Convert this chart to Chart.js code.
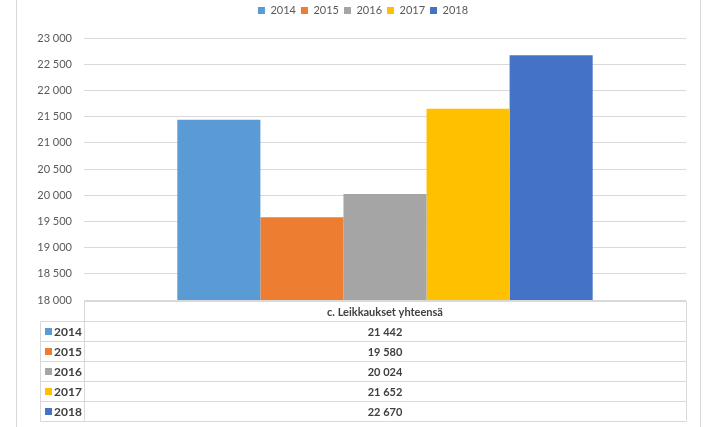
<!DOCTYPE html>
<html>
<head>
<meta charset="utf-8">
<script src="https://cdn.jsdelivr.net/npm/chart.js@4.4.1/dist/chart.umd.min.js"></script>
<style>
  html, body { margin: 0; padding: 0; background: #fff; }
  #wrap { width: 703px; height: 427px; position: relative; }
</style>
</head>
<body>
<div id="wrap"><canvas id="chart"></canvas></div>
<script>
const categories = ['c. Leikkaukset yhteensä'];
const years = ['2014', '2015', '2016', '2017', '2018'];
const values = [21442, 19580, 20024, 21652, 22670];
const colors = ['#5B9BD5', '#ED7D31', '#A5A5A5', '#FFC000', '#4472C4'];
const yMin = 18000, yMax = 23000, yStep = 500;

const fmt = v => String(v).replace(/\B(?=(\d{3})+(?!\d))/g, ' ');
const FONT = 'Lato, "Open Sans", sans-serif';
const lineCol = '#d9d9d9';

// extra room under the legend, and nudge it right over the plot
const legendGap = {
  id: 'legendGap',
  beforeInit(c) {
    const fit = c.legend.fit;
    c.legend.fit = function () { fit.bind(c.legend)(); this.height += 12; };
  },
  afterLayout(c) {
    c.legend.left += 20;
    c.legend.right += 20;
  }
};

// data table under the plot + outer frame lines
const tablePlugin = {
  id: 'dataTable',
  afterDraw(c) {
    const ctx = c.ctx;
    const a = c.chartArea;
    const rowH = 20;
    const top = a.bottom + 1;
    const labelLeft = 40;
    const cx = c.scales.x.getPixelForValue(0);
    ctx.save();
    ctx.strokeStyle = lineCol;
    ctx.lineWidth = 1;
    ctx.beginPath();
    ctx.moveTo(16.5, 0); ctx.lineTo(16.5, c.height);
    ctx.moveTo(700.5, 0); ctx.lineTo(700.5, c.height);
    ctx.stroke();
    ctx.beginPath();
    ctx.rect(Math.round(a.left) + 0.5, top + 0.5, Math.round(a.right - a.left), rowH);
    ctx.stroke();
    ctx.fillStyle = '#404040';
    ctx.font = 'bold 11px ' + FONT;
    ctx.textAlign = 'center';
    ctx.textBaseline = 'middle';
    ctx.fillText(categories[0], cx, top + rowH / 2 + 1);
    years.forEach((y, i) => {
      const ry = top + rowH * (i + 1);
      ctx.strokeStyle = lineCol;
      ctx.beginPath();
      ctx.rect(labelLeft + 0.5, ry + 0.5, Math.round(a.left) - labelLeft, rowH);
      ctx.rect(Math.round(a.left) + 0.5, ry + 0.5, Math.round(a.right - a.left), rowH);
      ctx.stroke();
      ctx.fillStyle = colors[i];
      ctx.fillRect(labelLeft + 5, ry + rowH / 2 - 3, 7, 7);
      ctx.fillStyle = '#404040';
      ctx.font = 'bold 12px ' + FONT;
      ctx.textAlign = 'left';
      ctx.fillText(y, labelLeft + 14, ry + rowH / 2 + 1);
      ctx.font = 'bold 11px ' + FONT;
      ctx.textAlign = 'center';
      ctx.fillText(fmt(values[i]), cx, ry + rowH / 2 + 1);
    });
    ctx.restore();
  }
};

new Chart(document.getElementById('chart'), {
  type: 'bar',
  data: {
    labels: categories,
    datasets: years.map((y, i) => ({
      label: y,
      data: [values[i]],
      backgroundColor: colors[i],
      borderWidth: 0,
      categoryPercentage: 0.69,
      barPercentage: 1
    }))
  },
  options: {
    responsive: true,
    maintainAspectRatio: false,
    animation: false,
    layout: { padding: { top: 0, bottom: 127, left: 0, right: 17 } },
    plugins: {
      legend: {
        position: 'top',
        labels: {
          boxWidth: 7, boxHeight: 7, padding: 5,
          color: '#595959',
          font: { family: FONT, size: 11 }
        }
      },
      tooltip: { enabled: false }
    },
    scales: {
      x: { display: false },
      y: {
        min: yMin, max: yMax,
        afterFit(s) { s.width = 84; },
        border: { display: false },
        grid: { color: lineCol, drawTicks: false },
        ticks: {
          stepSize: yStep,
          padding: 12,
          color: '#595959',
          font: { family: FONT, size: 11 },
          callback: v => fmt(v)
        }
      }
    }
  },
  plugins: [legendGap, tablePlugin]
});
</script>
</body>
</html>
